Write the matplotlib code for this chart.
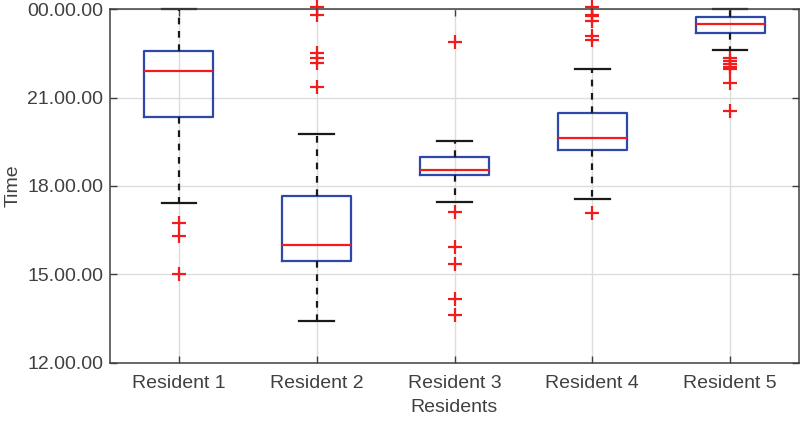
import matplotlib.pyplot as plt
from matplotlib.ticker import FixedLocator

plt.rcParams['font.family'] = ['Liberation Sans', 'DejaVu Sans']

# values in hours of the day (24 = midnight)
residents = ["Resident 1", "Resident 2", "Resident 3", "Resident 4", "Resident 5"]
whislo = [17.43, 13.42, 17.46, 17.56, 22.63]
q1 = [20.33, 15.46, 18.36, 19.22, 23.18]
med = [21.90, 16.01, 18.55, 19.62, 23.49]
q3 = [22.59, 17.66, 18.97, 20.47, 23.73]
whishi = [24.00, 19.76, 19.54, 21.97, 24.00]
fliers = [
    [16.75, 16.31, 15.02],
    [24.07, 23.81, 22.51, 22.34, 22.17, 21.35],
    [22.90, 17.12, 15.92, 15.35, 14.15, 13.62],
    [24.07, 23.81, 23.77, 23.61, 23.09, 22.96, 17.07],
    [22.34, 22.25, 22.14, 22.05, 21.96, 21.51, 20.55],
]
yticks = [12, 15, 18, 21, 24]
ytick_labels = ["12.00.00", "15.00.00", "18.00.00", "21.00.00", "00.00.00"]

stats = []
for i in range(len(residents)):
    stats.append(dict(whislo=whislo[i], q1=q1[i], med=med[i], q3=q3[i],
                      whishi=whishi[i], fliers=fliers[i], label=residents[i]))

fig = plt.figure(figsize=(8, 4.23), dpi=100)
ax = fig.add_axes([0.1375, 0.1426, 0.86125, 0.8354])

blue = "#2c48a8"
red = "#f21c1c"
txt = "#404040"

bp = ax.bxp(stats, positions=range(1, 6), widths=0.5, patch_artist=False,
            boxprops=dict(color=blue, linewidth=1.6),
            medianprops=dict(color=red, linewidth=1.6),
            whiskerprops=dict(color="#1a1a1a", linewidth=1.6, linestyle=(0, (3, 3))),
            capprops=dict(color="#1a1a1a", linewidth=1.6),
            flierprops=dict(marker="+", markeredgecolor=red, markersize=10,
                            markeredgewidth=1.6, linestyle="none"))
for f in bp["fliers"]:
    f.set_clip_on(False)
for c in bp["caps"]:
    c.set_clip_on(False)

ax.set_xlim(0.5, 5.5)
ax.set_ylim(12, 24)
ax.yaxis.set_major_locator(FixedLocator(yticks))
ax.set_yticklabels(ytick_labels)
ax.set_xticks(range(1, 6))
ax.set_xticklabels(residents)

ax.grid(True, color="#dcdcdc", linewidth=1)
ax.set_axisbelow(True)
ax.tick_params(direction="in", top=True, right=True, labelsize=14,
               colors="#404040", labelcolor=txt, length=5, width=1)
ax.tick_params(axis="x", pad=9)
ax.tick_params(axis="y", pad=5)
for s in ax.spines.values():
    s.set_color("#404040")
    s.set_linewidth(1.1)

ax.set_xlabel("Residents", fontsize=14, color=txt, labelpad=5)
ax.set_ylabel("Time", fontsize=14, color=txt, labelpad=4)

fig.savefig("out.png", dpi=100)
